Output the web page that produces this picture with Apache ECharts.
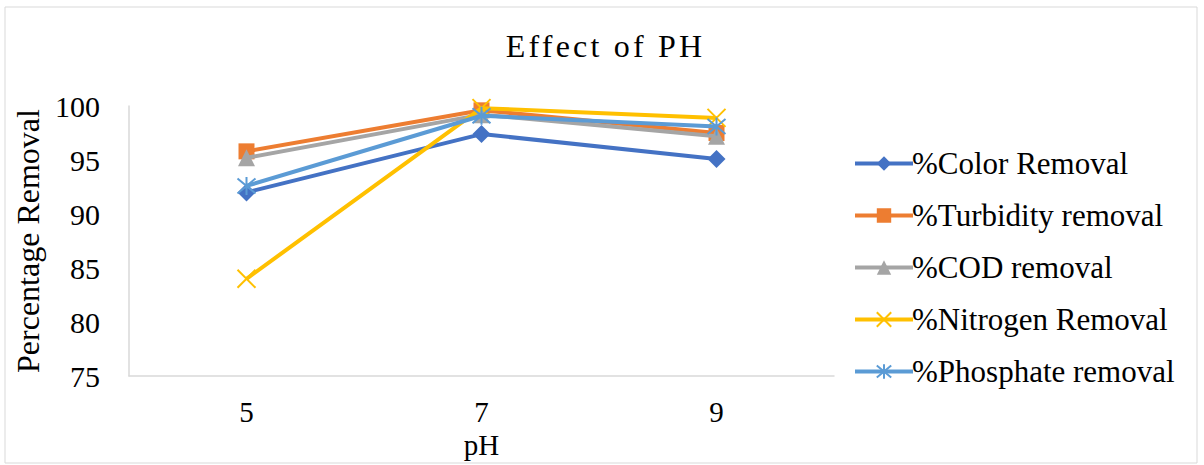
<!DOCTYPE html>
<html>
<head>
<meta charset="utf-8">
<script src="https://cdn.jsdelivr.net/npm/echarts@6/dist/echarts.min.js"></script>
<style>
  html, body { margin: 0; padding: 0; background: #fff; }
  #chart { width: 1204px; height: 465px; }
</style>
</head>
<body>
<div id="chart"></div>
<script>
// pH levels tested and removal efficiencies (%) at each level
const phLevels = ['5', '7', '9'];
const colorRemoval = [92.0, 97.4, 95.1];
const turbidityRemoval = [95.8, 99.6, 97.5];
const codRemoval = [95.2, 99.2, 97.2];
const nitrogenRemoval = [84.0, 99.8, 98.9];
const phosphateRemoval = [92.6, 99.1, 98.1];
const seriesNames = ['%Color Removal', '%Turbidity removal', '%COD removal', '%Nitrogen Removal', '%Phosphate removal'];

const FONT = '"Liberation Serif", "Times New Roman", serif';
const TITLE = 'Effect of PH';
const TITLE_SPACING = 3.2;
const palette = ['#4472C4', '#ED7D31', '#A5A5A5', '#FFC000', '#5B9BD5'];
const symbols = [
  'diamond',
  'rect',
  'triangle',
  'path://M0,0L10,10M10,0L0,10',
  'path://M0,0L10,10M10,0L0,10M5,-1L5,11'
];
const symbolSizes = [18, 16, 17, 18, 18];
const values = [colorRemoval, turbidityRemoval, codRemoval, nitrogenRemoval, phosphateRemoval];

const chart = echarts.init(document.getElementById('chart'), null, { renderer: 'svg' });

chart.setOption({
  animation: false,
  color: palette,
  title: {
    text: TITLE,
    left: 'center',
    top: 25,
    textStyle: { fontFamily: FONT, fontSize: 32, fontWeight: 'normal', color: '#000' }
  },
  graphic: [{
    type: 'rect',
    shape: { x: 5, y: 7, width: 1192, height: 456 },
    style: { fill: 'none', stroke: '#d9d9d9', lineWidth: 1 },
    silent: true
  }],
  legend: {
    orient: 'vertical',
    left: 848,
    top: 142,
    itemWidth: 58,
    itemHeight: 18,
    itemGap: 19,
    lineStyle: { width: 4 },
    textStyle: { fontFamily: FONT, fontSize: 31, color: '#000', lineHeight: 33, padding: [0, 0, 0, -6] },
    data: seriesNames
  },
  grid: { left: 129, right: 370, top: 106, bottom: 89, containLabel: false },
  xAxis: {
    type: 'category',
    data: phLevels,
    boundaryGap: true,
    name: 'pH',
    nameLocation: 'middle',
    nameGap: 49,
    nameTextStyle: { fontFamily: FONT, fontSize: 29, color: '#000' },
    axisLine: { lineStyle: { color: '#d9d9d9', width: 1.5 } },
    axisTick: { show: false },
    axisLabel: { fontFamily: FONT, fontSize: 29, color: '#000', margin: 21 },
    splitLine: { show: false }
  },
  yAxis: {
    type: 'value',
    min: 75,
    max: 100,
    interval: 5,
    name: 'Percentage Removal',
    nameLocation: 'middle',
    nameGap: 82,
    nameTextStyle: { fontFamily: FONT, fontSize: 32, color: '#000' },
    axisLine: { show: true, lineStyle: { color: '#d9d9d9', width: 1.5 } },
    axisTick: { show: false },
    axisLabel: { fontFamily: FONT, fontSize: 30, color: '#000', margin: 29 },
    splitLine: { show: false }
  },
  series: seriesNames.map((name, i) => ({
    name: name,
    type: 'line',
    data: values[i],
    symbol: symbols[i],
    symbolSize: symbolSizes[i],
    showAllSymbol: true,
    lineStyle: { width: 4, color: palette[i] },
    itemStyle: {
      color: palette[i],
      borderColor: palette[i],
      borderWidth: i >= 3 ? 2 : 0
    },
    z: 2 + i
  }))
});

// Spread the title letters apart, keeping it centred on the chart
function spaceTitle() {
  document.querySelectorAll('#chart svg text').forEach(t => {
    if (t.textContent === TITLE && !t.dataset.spaced) {
      t.dataset.spaced = '1';
      t.style.letterSpacing = TITLE_SPACING + 'px';
      t.setAttribute('text-anchor', 'start');
      const ctm = t.getCTM();
      const box = t.getBBox();
      const offsetX = ctm ? ctm.e : 0;
      const width = box.width - TITLE_SPACING;
      t.setAttribute('x', String(604 - width / 2 - offsetX));
    }
  });
}
spaceTitle();
setTimeout(spaceTitle, 0);
</script>
</body>
</html>
